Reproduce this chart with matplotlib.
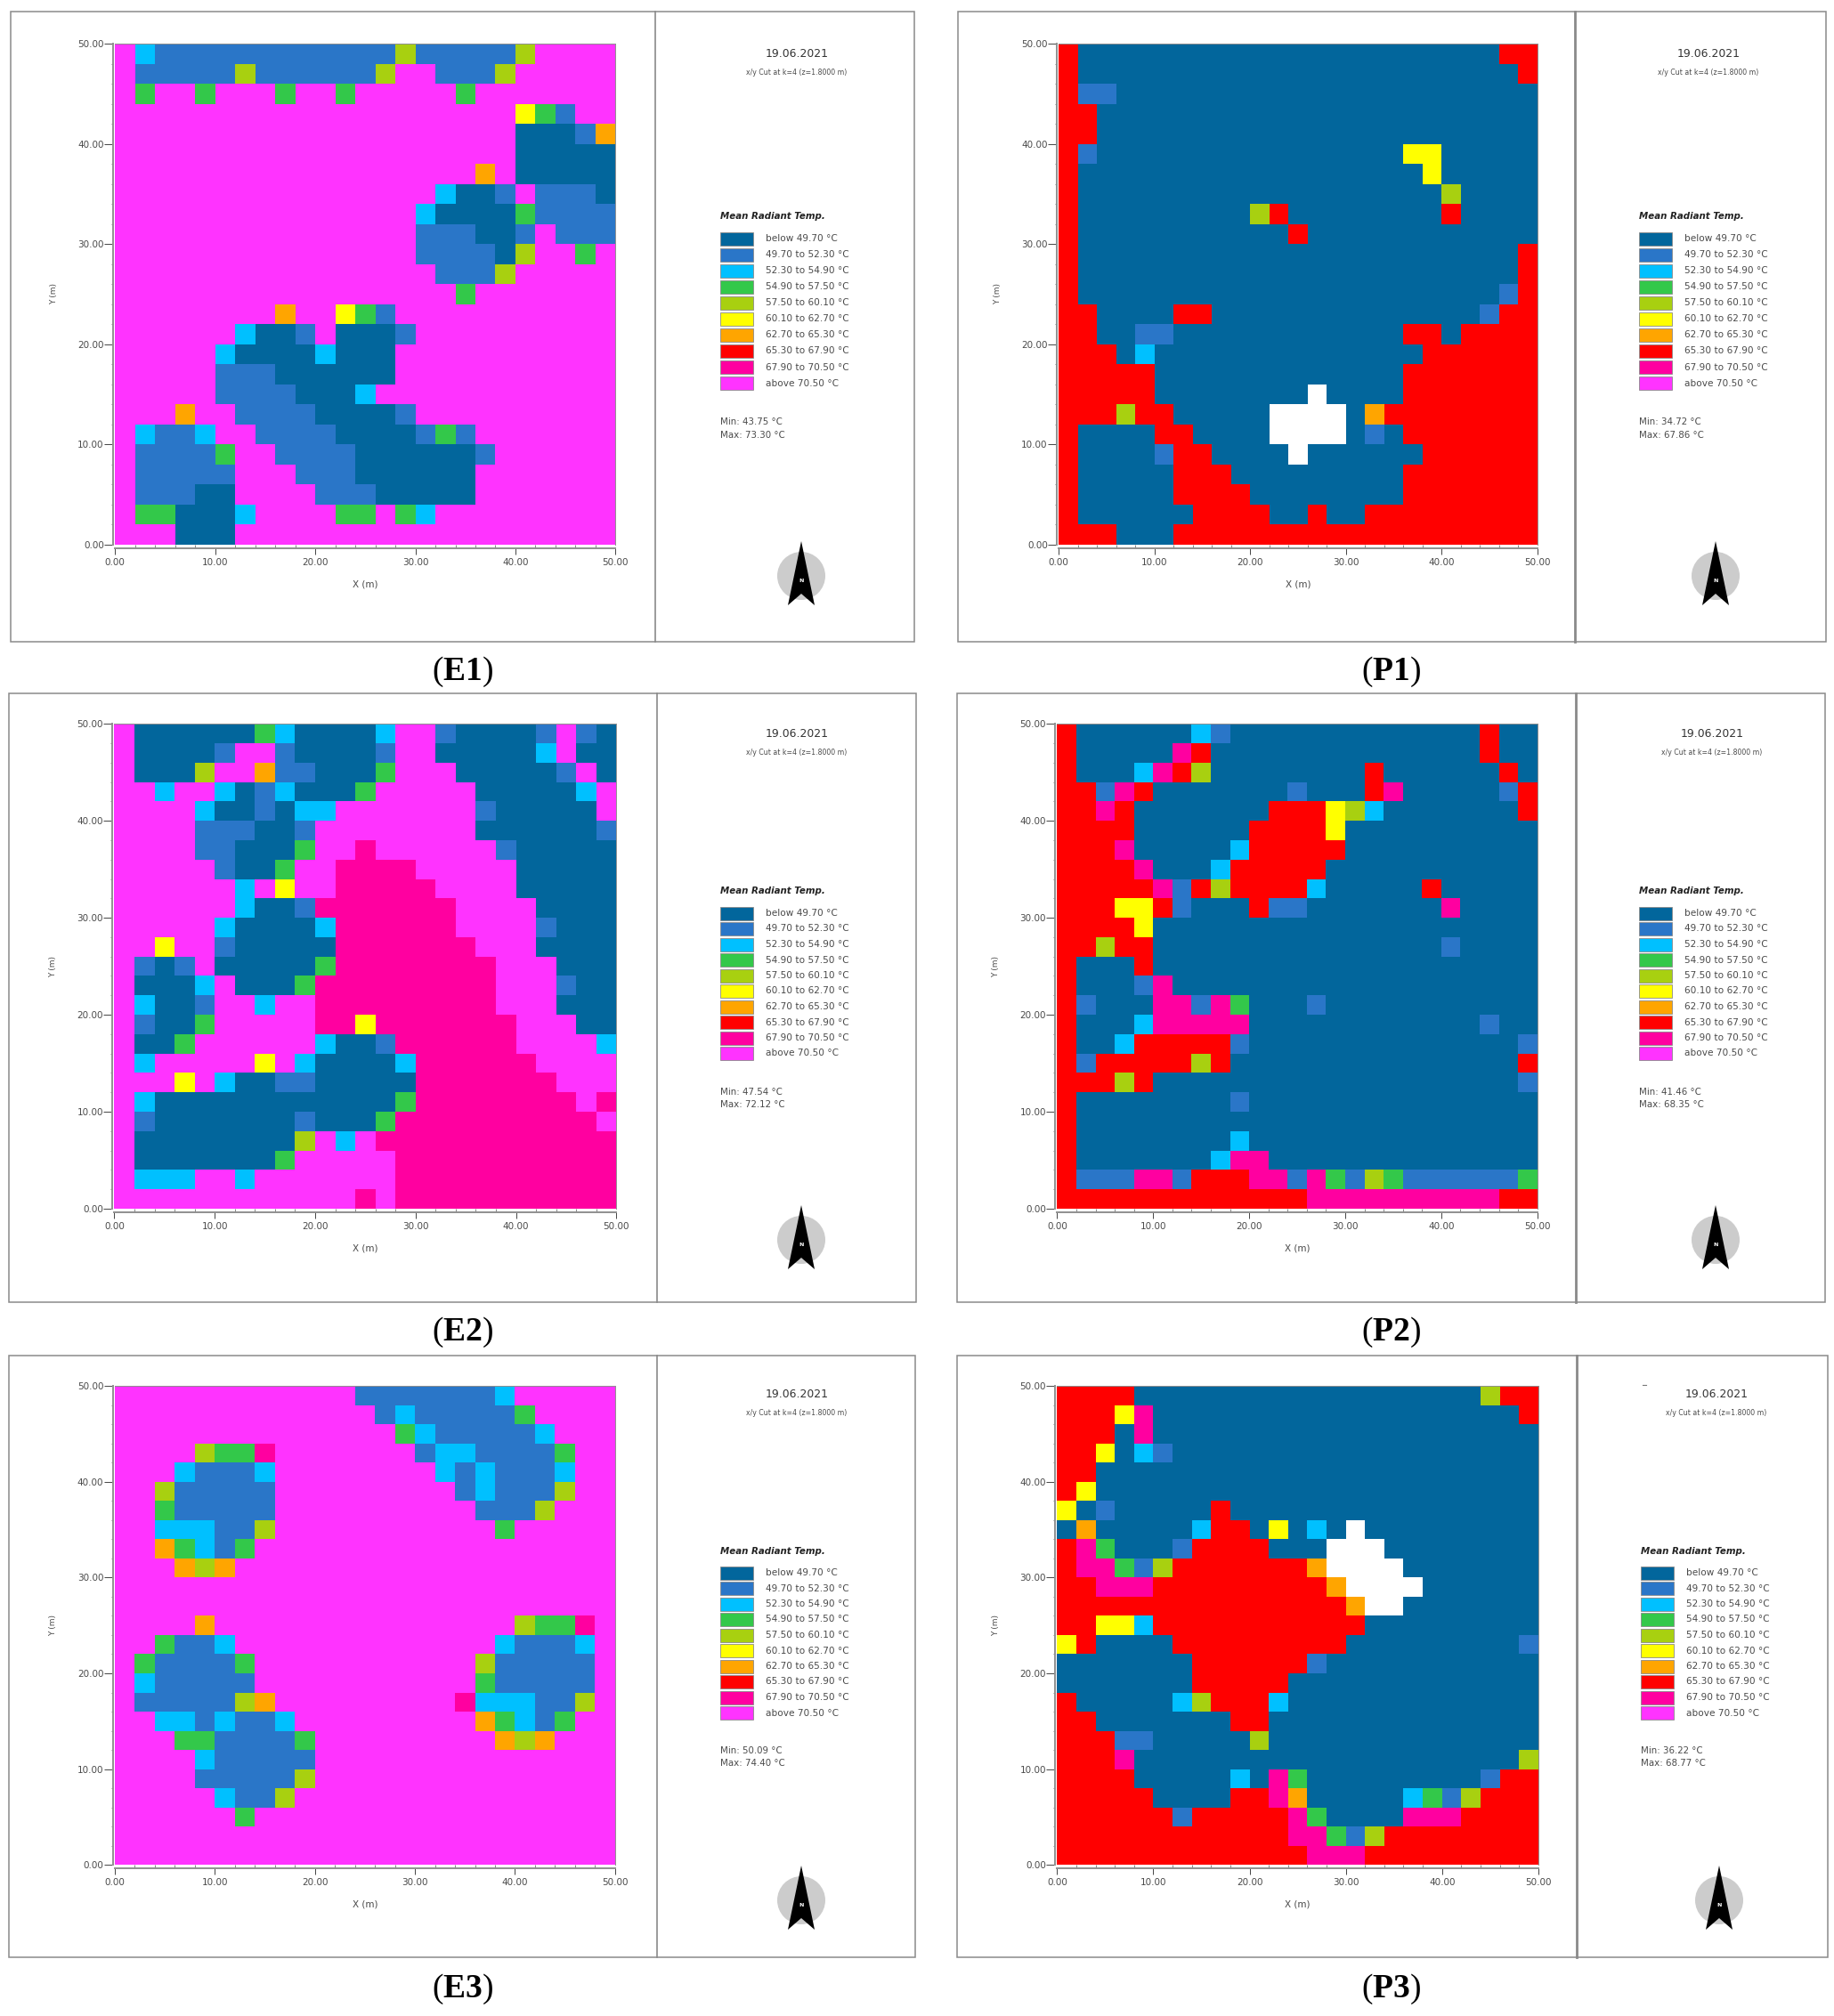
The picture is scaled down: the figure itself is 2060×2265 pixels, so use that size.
"""Mean radiant temperature maps, existing (E) and proposed (P) layouts."""

import matplotlib
matplotlib.use("Agg")
import matplotlib.pyplot as plt
import numpy as np
from matplotlib.colors import BoundaryNorm, ListedColormap
from matplotlib.patches import Circle, Polygon, Rectangle
from matplotlib.ticker import FixedLocator

W, H = 2060, 2265

# class per 2 m cell, top row first: 0 = below 49.70 ... 9 = above 70.50, w = no value
E1 = [
    "9211111111111141111149999",
    "9111114111111499111499999",
    "9399399939939999939999999",
    "9999999999999999999953199",
    "9999999999999999999900016",
    "9999999999999999999900000",
    "9999999999999999996900000",
    "9999999999999999200191110",
    "9999999999999992000031111",
    "9999999999999991110019111",
    "9999999999999991111049939",
    "9999999999999999111499999",
    "9999999999999999939999999",
    "9999999969953199999999999",
    "9999992001900019999999999",
    "9999920000200099999999999",
    "9999911100000099999999999",
    "9999911110002999999999999",
    "9996991111000019999999999",
    "9211299111100001319999999",
    "9111139911110000001999999",
    "9111119991110000009999999",
    "9111009999111000009999999",
    "9330002999933932999999999",
    "9990009999999999999999999",
]
P1 = [
    "7000000000000000000000077",
    "7000000000000000000000007",
    "7110000000000000000000000",
    "7700000000000000000000000",
    "7700000000000000000000000",
    "7100000000000000005500000",
    "7000000000000000000500000",
    "7000000000000000000040000",
    "7000000000470000000070000",
    "7000000000007000000000000",
    "7000000000000000000000007",
    "7000000000000000000000007",
    "7000000000000000000000017",
    "7700007700000000000000177",
    "7700110000000000007707777",
    "7770200000000000000777777",
    "7777700000000000007777777",
    "7777700000000w00007777777",
    "77747700000wwww0677777777",
    "70000770000wwww0107777777",
    "700001770000w000000777777",
    "7000007770000000007777777",
    "7000007777000000007777777",
    "7000000777700700777777777",
    "7770007777777777777777777",
]
E2 = [
    "9000000320000299100001910",
    "9000019910000199000002900",
    "9000499611000399900000190",
    "9929920120003999990000029",
    "9999200102299999991000009",
    "9999111001999999990000001",
    "9999110003998999999100000",
    "9999910039988889999900000",
    "9999992959988888999900000",
    "9999992001888888899990000",
    "9999920000288888899991000",
    "9959910000088888889990000",
    "9101900000388888888999000",
    "9000290003888888888999100",
    "9200199299888888888999000",
    "9100399999885888888899900",
    "9003999999200188888899992",
    "9299999592000028888889999",
    "9995920011000008888888999",
    "9200000000000038888888898",
    "9100000001000388888888889",
    "9000000004929888888888888",
    "9000000039999988888888888",
    "9222992999999988888888888",
    "9999999999998988888888888",
]
P2 = [
    "7000000210000000000000700",
    "7000008700000000000000700",
    "7000287400000000700000070",
    "7718700000001000780000017",
    "7787000000077754200000007",
    "7777000000777750000000000",
    "7778000002777770000000000",
    "7777800027777700000000000",
    "7777781747777200000700000",
    "7775571000711000000080000",
    "7777500000000000000000000",
    "7747700000000000000010000",
    "7000700000000000000000000",
    "7000180000000000000000000",
    "7100088183000100000000000",
    "7000288888000000000000100",
    "7002777771000000000000001",
    "7177777470000000000000007",
    "7774700000000000000000001",
    "7000000001000000000000000",
    "7000000000000000000000000",
    "7000000002000000000000000",
    "7000000028800000000000000",
    "7111881777881831431111113",
    "7777777777777888888888877",
]
E3 = [
    "9999999999991111111299999",
    "9999999999999121111139999",
    "9999999999999932111112999",
    "9999433899999991221111399",
    "9992111299999999212111299",
    "9941111199999999912111499",
    "9931111199999999991114999",
    "9922211499999999999399999",
    "9963213999999999999999999",
    "9996469999999999999999999",
    "9999999999999999999999999",
    "9999999999999999999999999",
    "9999699999999999999943389",
    "9931129999999999999211129",
    "9311113999999999994111119",
    "9211111999999999993111119",
    "9111114699999999982221149",
    "9922121129999999996321399",
    "9993311113999999999646999",
    "9999211111999999999999999",
    "9999111114999999999999999",
    "9999921149999999999999999",
    "9999993999999999999999999",
    "9999999999999999999999999",
    "9999999999999999999999999",
]
P3 = [
    "7777000000000000000000477",
    "7775800000000000000000007",
    "7770800000000000000000000",
    "7750210000000000000000000",
    "7700000000000000000000000",
    "7500000000000000000000000",
    "5010000070000000000000000",
    "060000027705020w000000000",
    "78300017777000www00000000",
    "78831477777776wwww0000000",
    "778887777777776wwww000000",
    "7777777777777776ww0000000",
    "7755277777777777000000000",
    "5700007777777770000000001",
    "0000000777777100000000000",
    "0000000777770000000000000",
    "7000002477720000000000000",
    "7700000007700000000000000",
    "7771100000400000000000000",
    "7778000000000000000000004",
    "7777000002083000000000177",
    "7777700007786000002314777",
    "7777771777778300008887777",
    "7777777777778831477777777",
    "7777777777777888777777777",
]

CLASS_COLORS = ["#02669c", "#2a76c8", "#00c0ff", "#33c84a", "#a8d010",
                "#ffff00", "#ffa500", "#ff0000", "#ff00a0", "#ff33ff"]
CLASS_LABELS = [
    "below 49.70 °C", "49.70 to 52.30 °C", "52.30 to 54.90 °C", "54.90 to 57.50 °C",
    "57.50 to 60.10 °C", "60.10 to 62.70 °C", "62.70 to 65.30 °C", "65.30 to 67.90 °C",
    "67.90 to 70.50 °C", "above 70.50 °C",
]
PANEL_NAMES = ["E1", "P1", "E2", "P2", "E3", "P3"]
PANEL_GRIDS = [E1, P1, E2, P2, E3, P3]
MIN_LABELS = ["43.75", "34.72", "47.54", "41.46", "50.09", "36.22"]
MAX_LABELS = ["73.30", "67.86", "72.12", "68.35", "74.40", "68.77"]
DATE_LABEL = "19.06.2021"
CUT_LABEL = "x/y Cut at k=4 (z=1.8000 m)"
LEGEND_TITLE = "Mean Radiant Temp."
TICKS = [0, 10, 20, 30, 40, 50]

# pixel layout per panel: frame (left, top, divider, right, bottom), plot (x0, x1, y0, y1)
FRAMES = [(12, 13, 736, 1027, 721), (1076, 13, 1769, 2051, 721),
          (10, 779, 738, 1029, 1463), (1075, 779, 1770, 2050, 1463),
          (10, 1523, 738, 1028, 2199), (1075, 1523, 1771, 2053, 2199)]
PLOTS = [(129.3, 691.4, 49, 612), (1189.3, 1726.8, 49, 612),
         (128.4, 692.3, 813.3, 1357.9), (1187.4, 1726.8, 813.3, 1357.9),
         (128.8, 690.9, 1557.2, 2095.2), (1187.4, 1727.8, 1557.2, 2095.2)]
# date, cut, title, first row, row step, min, max, compass (y); legend, date, compass (x)
SIDE_Y = [(60, 81, 243, 268, 18.07, 474, 489, 647), (60, 81, 243, 268, 18.07, 474, 489, 647),
          (825, 845, 1001, 1026, 17.5, 1227, 1241, 1393), (825, 845, 1001, 1026, 17.5, 1227, 1241, 1393),
          (1567, 1587, 1743, 1767, 17.5, 1967, 1981, 2135), (1567, 1587, 1743, 1767, 17.5, 1967, 1981, 2135)]
SIDE_X = [(809, 895, 900), (1841, 1919, 1927), (809, 895, 900),
          (1841, 1923, 1927), (809, 895, 900), (1843, 1928, 1931)]
LABEL_POS = [(520, 755), (1563, 755), (520, 1497), (1563, 1497), (520, 2235), (1563, 2235)]

TEXT_COLOR = "#4a4a4a"
FRAME_COLOR = "#8a8a8a"

plt.rcParams.update({
    "font.family": "DejaVu Sans",
    "mathtext.fontset": "custom",
    "mathtext.rm": "Liberation Serif",
    "mathtext.bf": "Liberation Serif:bold",
})


def grid_values(rows):
    assert len(rows) == 25 and all(len(r) == 25 for r in rows), rows
    return np.ma.masked_invalid(
        np.array([[np.nan if c == "w" else float(c) for c in r] for r in rows])
    )


def draw_map(fig, rows, box):
    x0, x1, y0, y1 = box
    ax = fig.add_axes([x0 / W, 1 - y1 / H, (x1 - x0) / W, (y1 - y0) / H])
    cmap = ListedColormap(CLASS_COLORS)
    cmap.set_bad("white")
    norm = BoundaryNorm(np.arange(-0.5, 10.5), cmap.N)
    xe = np.arange(0, 52, 2)
    ye = np.arange(50, -2, -2)
    ax.pcolormesh(xe, ye, grid_values(rows), cmap=cmap, norm=norm, linewidth=0, antialiased=False)

    ax.set_xlim(0, 50)
    ax.set_ylim(0, 50)
    ax.set_xticks(TICKS)
    ax.set_yticks(TICKS)
    ax.set_xticklabels([f"{t:.2f}" for t in TICKS])
    ax.set_yticklabels([f"{t:.2f}" for t in TICKS])
    ax.xaxis.set_minor_locator(FixedLocator(np.arange(0, 52, 2)))
    ax.yaxis.set_minor_locator(FixedLocator(np.arange(0, 52, 2)))
    ax.tick_params(which="major", width=0.7, color="#444444", labelsize=7.5, labelcolor=TEXT_COLOR)
    ax.tick_params(axis="x", which="major", length=5, pad=3)
    ax.tick_params(axis="y", which="major", length=7, pad=0.5)
    ax.tick_params(axis="x", which="minor", length=3, width=0.5, color="#555555", direction="in")
    ax.tick_params(axis="y", which="minor", length=1.5, width=0.5, color="#555555")
    ax.spines["left"].set_position(("outward", 1.5))
    ax.spines["bottom"].set_position(("outward", 3))
    for name, spine in ax.spines.items():
        spine.set_color("#8f8f8f")
        spine.set_linewidth(1.4 if name in ("left", "bottom") else 0.7)
    ax.set_xlabel("X (m)", fontsize=7.5, color=TEXT_COLOR, labelpad=10)
    ax.set_ylabel("Y (m)", fontsize=6.5, color=TEXT_COLOR, labelpad=16)


def draw_side(canvas, i):
    left, top, divider, right, bottom = FRAMES[i]
    canvas.add_patch(Rectangle((left, top), right - left, bottom - top, fill=False,
                               edgecolor=FRAME_COLOR, linewidth=1.1))
    canvas.plot([divider, divider], [top, bottom], color=FRAME_COLOR,
                linewidth=2 if i % 2 else 1.2)

    date_y, cut_y, title_y, row_y, step, min_y, max_y, comp_y = SIDE_Y[i]
    leg_x, date_x, comp_x = SIDE_X[i]
    canvas.text(date_x, date_y, DATE_LABEL, fontsize=8.9, color="#333333", ha="center", va="center")
    canvas.text(date_x, cut_y, CUT_LABEL, fontsize=5.6, color=TEXT_COLOR, ha="center", va="center")
    canvas.text(leg_x, title_y, LEGEND_TITLE, fontsize=7.4, color="#222222", fontweight="bold",
                fontstyle="italic", ha="left", va="center")
    for k, (color, label) in enumerate(zip(CLASS_COLORS, CLASS_LABELS)):
        y = row_y + k * step
        canvas.add_patch(Rectangle((leg_x, y - 7.5), 37, 15, facecolor=color,
                                   edgecolor="#8a8a8a", linewidth=0.6))
        canvas.text(leg_x + 51, y, label, fontsize=7.6, color=TEXT_COLOR, ha="left", va="center")
    canvas.text(leg_x, min_y, f"Min: {MIN_LABELS[i]} °C", fontsize=7.4, color=TEXT_COLOR,
                ha="left", va="center")
    canvas.text(leg_x, max_y, f"Max: {MAX_LABELS[i]} °C", fontsize=7.4, color=TEXT_COLOR,
                ha="left", va="center")

    # north arrow
    canvas.add_patch(Circle((comp_x, comp_y), 27, facecolor="#cccccc", edgecolor="none"))
    arrow = [(comp_x, comp_y - 39), (comp_x + 15, comp_y + 33),
             (comp_x, comp_y + 20), (comp_x - 15, comp_y + 33)]
    canvas.add_patch(Polygon(arrow, closed=True, facecolor="black", edgecolor="none"))
    canvas.text(comp_x, comp_y + 5, "N", fontsize=4.5, color="white", fontweight="bold",
                ha="center", va="center")

    lx, ly = LABEL_POS[i]
    canvas.text(lx, ly, rf"$\mathrm{{(}}\mathbf{{{PANEL_NAMES[i]}}}\mathrm{{)}}$", fontsize=27,
                color="black", ha="center", va="center")


def main():
    fig = plt.figure(figsize=(W / 100, H / 100), dpi=100, facecolor="white")
    canvas = fig.add_axes([0, 0, 1, 1])
    canvas.set_xlim(0, W)
    canvas.set_ylim(H, 0)
    canvas.axis("off")

    for i, rows in enumerate(PANEL_GRIDS):
        draw_side(canvas, i)
        draw_map(fig, rows, PLOTS[i])

    # stray dash left of the P3 date
    canvas.plot([1845, 1849], [1556, 1556], color="#777777", linewidth=0.8)

    fig.savefig("out.png", dpi=100, facecolor="white")
    plt.close(fig)


if __name__ == "__main__":
    main()
